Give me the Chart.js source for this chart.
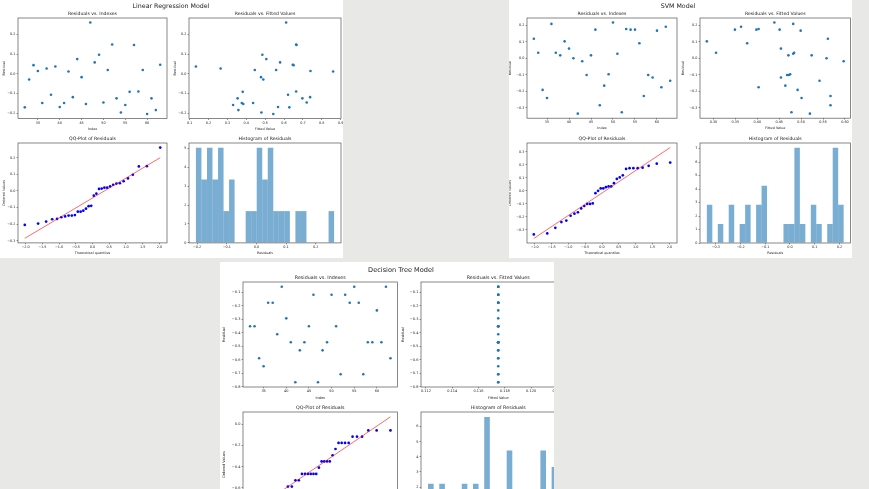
<!DOCTYPE html>
<html>
<head>
<meta charset="utf-8">
<title>Model residual diagnostics</title>
<script src="https://cdn.jsdelivr.net/npm/chart.js@4.4.1/dist/chart.umd.min.js"></script>
<style>
  html, body { margin: 0; padding: 0; }
  body {
    width: 869px; height: 489px; overflow: hidden; position: relative;
    background: #e8e8e6; font-family: "DejaVu Sans", sans-serif;
  }
  .panel { position: absolute; background: #fff; overflow: hidden; }
  .panel canvas { position: absolute; }
  .suptitle {
    position: absolute; white-space: nowrap; color: #222; font-weight: normal;
    transform: translate(-50%, -50%) translateZ(0); line-height: 1;
    -webkit-font-smoothing: antialiased;
  }
</style>
</head>
<body>

<div class="panel" id="lrPanel" style="left:0; top:0; width:343px; height:258px;">
  <div class="suptitle" style="left:171px; top:6px; font-size:6.3px;">Linear Regression Model</div>
</div>

<div class="panel" id="svmPanel" style="left:509px; top:0; width:343px; height:258px;">
  <div class="suptitle" style="left:169px; top:6px; font-size:6.3px;">SVM Model</div>
</div>

<div class="panel" id="dtPanel" style="left:220px; top:262px; width:334px; height:227px;">
  <div class="suptitle" style="left:181px; top:8px; font-size:6.6px;">Decision Tree Model</div>
</div>

<script>
// ---- values ----------------------------------------------------------

// test-set row indexes (same split for all three models)
const sampleIndex = [32, 33, 34, 35, 36, 37, 38, 39, 40, 41, 42, 43, 44, 45, 46, 47,
                     48, 49, 50, 51, 52, 53, 54, 55, 56, 57, 58, 59, 60, 61, 62, 63];

const lrResiduals = [-0.171, -0.029, 0.044, 0.014, -0.149, 0.027, -0.107, 0.037,
                     -0.169, -0.149, 0.012, -0.119, 0.075, -0.017, -0.154, 0.261,
                     0.058, 0.097, -0.146, 0.019, 0.149, -0.125, -0.197, -0.159,
                     -0.092, 0.147, -0.090, 0.019, -0.205, -0.125, -0.185, 0.046];
const lrFitted = [0.628, 0.490, 0.650, 0.740, 0.376, 0.264, 0.621, 0.133,
                  0.568, 0.436, 0.860, 0.738, 0.506, 0.478, 0.384, 0.611,
                  0.579, 0.485, 0.720, 0.445, 0.664, 0.354, 0.480, 0.330,
                  0.381, 0.666, 0.664, 0.558, 0.543, 0.697, 0.358, 0.646];

const svmResiduals = [0.119, 0.034, -0.192, -0.241, 0.209, 0.034, 0.018, 0.103,
                      0.059, 0.000, -0.336, -0.018, -0.101, 0.018, 0.174, -0.285,
                      -0.166, -0.097, 0.217, 0.028, -0.328, 0.178, 0.174, 0.174,
                      0.091, -0.229, -0.101, -0.117, 0.168, -0.176, 0.192, -0.136];
const svmFitted = [0.561, 0.306, 0.492, 0.501, 0.482, 0.484, 0.471, 0.285,
                   0.454, 0.558, 0.520, 0.597, 0.468, 0.524, 0.349, 0.567,
                   0.464, 0.475, 0.439, 0.482, 0.478, 0.403, 0.398, 0.451,
                   0.377, 0.567, 0.472, 0.454, 0.499, 0.403, 0.363, 0.542];

const dtResiduals = [-0.351, -0.351, -0.588, -0.647, -0.176, -0.176, -0.410, -0.058,
                     -0.292, -0.469, -0.765, -0.529, -0.469, -0.351, -0.117, -0.765,
                     -0.529, -0.469, -0.117, -0.351, -0.706, -0.117, -0.176, -0.058,
                     -0.176, -0.706, -0.469, -0.469, -0.233, -0.469, -0.058, -0.588];
// the tree predicts one value for every test row
const dtFitted = [0.1175, 0.1175, 0.1175, 0.1175, 0.1175, 0.1175, 0.1175, 0.1175,
                  0.1175, 0.1175, 0.1175, 0.1175, 0.1175, 0.1175, 0.1175, 0.1175,
                  0.1175, 0.1175, 0.1175, 0.1175, 0.1175, 0.1175, 0.1175, 0.1175,
                  0.1175, 0.1175, 0.1175, 0.1175, 0.1175, 0.1175, 0.1175, 0.1175];

// QQ plots: theoretical normal quantiles (n = 32) and ordered residuals
const theoreticalQuantiles = [-2.025, -1.626, -1.386, -1.206, -1.060, -0.932, -0.819, -0.715,
                              -0.618, -0.527, -0.440, -0.356, -0.275, -0.195, -0.116, -0.039,
                              0.039, 0.116, 0.195, 0.275, 0.356, 0.440, 0.527, 0.618,
                              0.715, 0.819, 0.932, 1.060, 1.206, 1.386, 1.626, 2.025];
const lrOrdered = [-0.205, -0.197, -0.185, -0.171, -0.169, -0.159, -0.154, -0.149,
                   -0.149, -0.146, -0.125, -0.125, -0.119, -0.107, -0.092, -0.090,
                   -0.029, -0.017, 0.012, 0.014, 0.019, 0.019, 0.027, 0.037,
                   0.044, 0.046, 0.058, 0.075, 0.097, 0.147, 0.149, 0.261];
const svmOrdered = [-0.336, -0.328, -0.285, -0.241, -0.229, -0.192, -0.176, -0.166,
                    -0.136, -0.117, -0.101, -0.101, -0.097, -0.018, 0.000, 0.018,
                    0.018, 0.028, 0.034, 0.034, 0.059, 0.091, 0.103, 0.119,
                    0.168, 0.174, 0.174, 0.174, 0.178, 0.192, 0.209, 0.217];
const dtOrdered = [-0.765, -0.765, -0.706, -0.706, -0.647, -0.588, -0.588, -0.529,
                   -0.529, -0.469, -0.469, -0.469, -0.469, -0.469, -0.469, -0.410,
                   -0.351, -0.351, -0.351, -0.351, -0.292, -0.233, -0.176, -0.176,
                   -0.176, -0.176, -0.117, -0.117, -0.117, -0.058, -0.058, -0.058];
// red reference line, value at the first and last theoretical quantile
const lrQQLine = [-0.286, 0.200];
const svmQQLine = [-0.367, 0.333];
const dtQQLine = [-0.833, 0.071];

// histograms (density), 25 bins each
const lrBinEdges = [-0.2040, -0.1854, -0.1667, -0.1481, -0.1294, -0.1108, -0.0922, -0.0735,
                    -0.0549, -0.0362, -0.0176, 0.0010, 0.0197, 0.0383, 0.0570, 0.0756,
                    0.0942, 0.1129, 0.1315, 0.1502, 0.1688, 0.1874, 0.2061, 0.2247,
                    0.2434, 0.2620];
const lrDensity = [5.03, 3.35, 5.03, 3.35, 5.03, 1.68, 3.35, 0, 0, 1.68, 1.68, 5.03, 3.35,
                   5.03, 1.68, 1.68, 1.68, 0, 1.68, 1.68, 0, 0, 0, 0, 1.68];
const svmBinEdges = [-0.3360, -0.3139, -0.2918, -0.2696, -0.2475, -0.2254, -0.2033, -0.1812,
                     -0.1590, -0.1369, -0.1148, -0.0927, -0.0706, -0.0484, -0.0263, -0.0042,
                     0.0179, 0.0400, 0.0622, 0.0843, 0.1064, 0.1285, 0.1506, 0.1728,
                     0.1949, 0.2170];
const svmDensity = [2.83, 0, 1.41, 0, 2.83, 0, 1.41, 2.83, 0, 2.83, 4.24, 0, 0, 0, 1.41,
                    1.41, 7.06, 1.41, 0, 2.83, 1.41, 0, 1.41, 7.06, 2.83];
const dtBinEdges = [-0.7650, -0.7367, -0.7084, -0.6802, -0.6519, -0.6236, -0.5953, -0.5670,
                    -0.5388, -0.5105, -0.4822, -0.4539, -0.4256, -0.3974, -0.3691, -0.3408,
                    -0.3125, -0.2842, -0.2560, -0.2277, -0.1994, -0.1711, -0.1428, -0.1146,
                    -0.0863, -0.0580];
const dtDensity = [2.21, 0, 2.21, 0, 1.11, 0, 2.21, 0, 2.21, 0, 6.63, 0, 1.11, 0, 4.42,
                   0, 1.11, 0, 1.11, 0, 4.42, 0, 3.32, 0, 3.32];

// tick labels
const indexTicks = [35, 40, 45, 50, 55, 60];
const qqTicks = [-2.0, -1.5, -1.0, -0.5, 0.0, 0.5, 1.0, 1.5, 2.0];
const lrResidualTicks = [-0.2, -0.1, 0.0, 0.1, 0.2];
const lrFittedTicks = [0.1, 0.2, 0.3, 0.4, 0.5, 0.6, 0.7, 0.8, 0.9];
const lrQQTicks = [-0.3, -0.2, -0.1, 0.0, 0.1, 0.2];
const lrHistTicks = [-0.2, -0.1, 0.0, 0.1, 0.2];
const lrCountTicks = [0, 1, 2, 3, 4, 5];
const svmResidualTicks = [-0.3, -0.2, -0.1, 0.0, 0.1, 0.2];
const svmFittedTicks = [0.30, 0.35, 0.40, 0.45, 0.50, 0.55, 0.60];
const svmQQTicks = [-0.3, -0.2, -0.1, 0.0, 0.1, 0.2, 0.3];
const svmHistTicks = [-0.3, -0.2, -0.1, 0.0, 0.1, 0.2];
const svmCountTicks = [0, 1, 2, 3, 4, 5, 6, 7];
const dtResidualTicks = [-0.8, -0.7, -0.6, -0.5, -0.4, -0.3, -0.2, -0.1];
const dtFittedTicks = [0.112, 0.114, 0.116, 0.118, 0.120, 0.122];
const dtQQTicks = [-0.8, -0.6, -0.4, -0.2, 0.0];
const dtHistTicks = [-0.8, -0.7, -0.6, -0.5, -0.4, -0.3, -0.2, -0.1];
const dtCountTicks = [0, 1, 2, 3, 4, 5, 6];

// ---- drawing -----------------------------------------------------------
Chart.defaults.font.family = "'DejaVu Sans', sans-serif";
const INK = '#222';

// matplotlib-style box around every axes
const framePlugin = {
    id: 'frame',
    afterDatasetsDraw(chart) {
        const a = chart.chartArea;
        const ctx = chart.ctx;
        ctx.save();
        ctx.strokeStyle = '#555';
        ctx.lineWidth = 0.7;
        ctx.strokeRect(a.left, a.top, a.right - a.left, a.bottom - a.top);
        ctx.restore();
    }
};

function fmt(dec) {
    return v => (v < 0 ? '\u2212' : '') + Math.abs(v).toFixed(dec);
}

function pairs(xs, ys) {
    return xs.map((x, i) => ({x: x, y: ys[i]}));
}

function dots(xs, ys) {
    return {data: pairs(xs, ys), pointRadius: 1.3, pointBackgroundColor: '#1f77b4', pointBorderWidth: 0};
}

function qqDots(ys) {
    return {data: pairs(theoreticalQuantiles, ys), pointRadius: 1.35, pointBackgroundColor: '#0000ff', pointBorderWidth: 0};
}

function qqLine(ends) {
    const last = theoreticalQuantiles.length - 1;
    return {
        data: [{x: theoreticalQuantiles[0], y: ends[0]}, {x: theoreticalQuantiles[last], y: ends[1]}],
        showLine: true, borderColor: 'rgba(255,0,0,0.85)', borderWidth: 0.7, pointRadius: 0
    };
}

function bars(edges, heights) {
    return {
        data: heights.map((h, i) => ({x: (edges[i] + edges[i + 1]) / 2, y: h})),
        backgroundColor: 'rgba(31,119,180,0.6)', borderWidth: 0,
        barPercentage: 1, categoryPercentage: 1, inflateAmount: 0
    };
}

function makeAxes(panelId, box, ax) {
    const s = ax.scale || 1;
    const padL = 24, padT = 10, padR = 8, padB = 16;
    const cw = Math.ceil(box.W + padL + padR);
    const ch = Math.ceil(box.H + padT + padB);
    const canvas = document.createElement('canvas');
    canvas.width = cw;
    canvas.height = ch;
    canvas.style.left = (box.L - padL) + 'px';
    canvas.style.top = (box.T - padT) + 'px';
    document.getElementById(panelId).appendChild(canvas);

    const font = {size: 3.4 * s};
    const lh = font.size * 1.2;
    const titleSize = 4.6 * s;
    const titleLh = titleSize * 1.2;
    const titleGap = 4 * s;
    const xHeight = ch - padT - box.H;
    const xOff = 10.3 * s;

    function axis(lim, ticks, dec, label, isX) {
        return {
            type: 'linear', min: lim[0], max: lim[1], offset: false,
            afterBuildTicks: sc => { sc.ticks = ticks.map(v => ({value: v})); },
            afterFit: sc => {
                if (isX) sc.height = xHeight; else sc.width = padL;
            },
            grid: {display: true, offset: false, drawOnChartArea: false, drawTicks: true,
                   tickLength: 1.4, tickWidth: 0.5, tickColor: INK},
            border: {display: false},
            ticks: {font: font, color: INK, padding: isX ? 0.6 : 1.2, autoSkip: false,
                    maxRotation: 0, minRotation: 0, callback: fmt(dec)},
            title: {
                display: !!label, text: label, font: font, color: INK,
                padding: isX ? {top: 0, bottom: xHeight - xOff - lh / 2}
                             : {top: padL - ax.yOff * s - lh / 2, bottom: 0}
            }
        };
    }

    return new Chart(canvas, {
        type: ax.kind,
        data: {datasets: ax.datasets},
        options: {
            responsive: false,
            animation: false,
            events: [],
            layout: {padding: {left: 0, top: 0, right: cw - padL - box.W, bottom: 0}},
            plugins: {
                legend: {display: false},
                tooltip: {enabled: false},
                title: {
                    display: true, text: ax.title, fullSize: false, color: INK,
                    font: {size: titleSize, weight: 'normal'},
                    padding: {top: padT - titleGap - titleLh / 2, bottom: titleGap - titleLh / 2}
                }
            },
            scales: {
                x: axis(ax.x, ax.xTicks, ax.xDec, ax.xLabel, true),
                y: axis(ax.y, ax.yTicks, ax.yDec, ax.yLabel, false)
            }
        },
        plugins: [framePlugin]
    });
}

// Linear regression
makeAxes('lrPanel', {L: 17.5, T: 17.7, W: 149, H: 100.6}, {
    kind: 'scatter', title: 'Residuals vs. Indexes', xLabel: 'Index', yLabel: 'Residual', yOff: 14,
    x: [30.45, 64.55], y: [-0.2283, 0.2843], xTicks: indexTicks, yTicks: lrResidualTicks, xDec: 0, yDec: 1,
    datasets: [dots(sampleIndex, lrResiduals)]
});
makeAxes('lrPanel', {L: 188.6, T: 17.7, W: 152, H: 100.6}, {
    kind: 'scatter', title: 'Residuals vs. Fitted Values', xLabel: 'Fitted Value', yLabel: 'Residual', yOff: 14,
    x: [0.0964, 0.9016], y: [-0.2283, 0.2843], xTicks: lrFittedTicks, yTicks: lrResidualTicks, xDec: 1, yDec: 1,
    datasets: [dots(lrFitted, lrResiduals)]
});
makeAxes('lrPanel', {L: 17.5, T: 142.7, W: 149, H: 99.9}, {
    kind: 'scatter', title: 'QQ-Plot of Residuals', xLabel: 'Theoretical quantiles', yLabel: 'Ordered Values', yOff: 14,
    x: [-2.2275, 2.2275], y: [-0.3134, 0.2884], xTicks: qqTicks, yTicks: lrQQTicks, xDec: 1, yDec: 1,
    datasets: [qqLine(lrQQLine), qqDots(lrOrdered)]
});
makeAxes('lrPanel', {L: 188.6, T: 142.7, W: 152, H: 99.9}, {
    kind: 'bar', title: 'Histogram of Residuals', xLabel: 'Residuals', yLabel: '', yOff: 14,
    x: [-0.2273, 0.2853], y: [0, 5.28], xTicks: lrHistTicks, yTicks: lrCountTicks, xDec: 1, yDec: 0,
    datasets: [bars(lrBinEdges, lrDensity)]
});

// SVM
makeAxes('svmPanel', {L: 18, T: 18.4, W: 150, H: 100.2}, {
    kind: 'scatter', title: 'Residuals vs. Indexes', xLabel: 'Index', yLabel: 'Residual', yOff: 17,
    x: [30.45, 64.55], y: [-0.3637, 0.2447], xTicks: indexTicks, yTicks: svmResidualTicks, xDec: 0, yDec: 1,
    datasets: [dots(sampleIndex, svmResiduals)]
});
makeAxes('svmPanel', {L: 190.5, T: 18.4, W: 150.5, H: 100.2}, {
    kind: 'scatter', title: 'Residuals vs. Fitted Values', xLabel: 'Fitted Value', yLabel: 'Residual', yOff: 17,
    x: [0.2694, 0.6126], y: [-0.3637, 0.2447], xTicks: svmFittedTicks, yTicks: svmResidualTicks, xDec: 2, yDec: 1,
    datasets: [dots(svmFitted, svmResiduals)]
});
makeAxes('svmPanel', {L: 18, T: 142.5, W: 150, H: 100}, {
    kind: 'scatter', title: 'QQ-Plot of Residuals', xLabel: 'Theoretical quantiles', yLabel: 'Ordered Values', yOff: 17,
    x: [-2.2275, 2.2275], y: [-0.402, 0.368], xTicks: qqTicks, yTicks: svmQQTicks, xDec: 1, yDec: 1,
    datasets: [qqLine(svmQQLine), qqDots(svmOrdered)]
});
makeAxes('svmPanel', {L: 190.5, T: 142.5, W: 150.5, H: 100}, {
    kind: 'bar', title: 'Histogram of Residuals', xLabel: 'Residuals', yLabel: '', yOff: 17,
    x: [-0.3637, 0.2447], y: [0, 7.41], xTicks: svmHistTicks, yTicks: svmCountTicks, xDec: 1, yDec: 0,
    datasets: [bars(svmBinEdges, svmDensity)]
});

// Decision tree
makeAxes('dtPanel', {L: 22.7, T: 20, W: 154.5, H: 105}, {
    kind: 'scatter', scale: 1.037, title: 'Residuals vs. Indexes', xLabel: 'Index', yLabel: 'Residual', yOff: 18,
    x: [30.45, 64.55], y: [-0.8004, -0.0227], xTicks: indexTicks, yTicks: dtResidualTicks, xDec: 0, yDec: 1,
    datasets: [dots(sampleIndex, dtResiduals)]
});
makeAxes('dtPanel', {L: 201, T: 20, W: 154.5, H: 105}, {
    kind: 'scatter', scale: 1.037, title: 'Residuals vs. Fitted Values', xLabel: 'Fitted Value', yLabel: 'Residual', yOff: 17,
    x: [0.111625, 0.123375], y: [-0.8004, -0.0227], xTicks: dtFittedTicks, yTicks: dtResidualTicks, xDec: 3, yDec: 1,
    datasets: [dots(dtFitted, dtResiduals)]
});
makeAxes('dtPanel', {L: 22.7, T: 149.7, W: 154.5, H: 105.3}, {
    kind: 'scatter', scale: 1.037, title: 'QQ-Plot of Residuals', xLabel: 'Theoretical quantiles', yLabel: 'Ordered Values', yOff: 18,
    x: [-2.2275, 2.2275], y: [-0.8782, 0.1162], xTicks: qqTicks, yTicks: dtQQTicks, xDec: 1, yDec: 1,
    datasets: [qqLine(dtQQLine), qqDots(dtOrdered)]
});
makeAxes('dtPanel', {L: 201, T: 149.7, W: 154.5, H: 105.3}, {
    kind: 'bar', scale: 1.037, title: 'Histogram of Residuals', xLabel: 'Residuals', yLabel: '', yOff: 17,
    x: [-0.8004, -0.0227], y: [0, 6.96], xTicks: dtHistTicks, yTicks: dtCountTicks, xDec: 1, yDec: 0,
    datasets: [bars(dtBinEdges, dtDensity)]
});
</script>
</body>
</html>
